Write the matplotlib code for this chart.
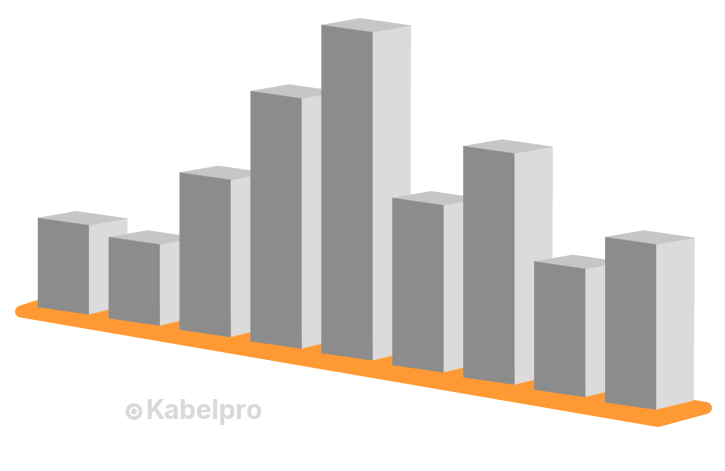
import matplotlib
matplotlib.use("Agg")
import matplotlib.pyplot as plt
from matplotlib.patches import Polygon, Circle

# bar heights (no axis in the original, so pixels)
heights = [89, 81, 157, 250, 328, 167, 231, 128, 165]
watermark = "Kabelpro"

C_FRONT = "#8c8c8c"
C_SIDE = "#dbdbdb"
C_TOP = "#c6c6c6"
C_BASE = "#ff9933"
C_MARK = "#d9d9d9"

# the fake 3d projection, the floor line bends a bit towards the viewer
X0, Y0 = 38, 307
STEP_X, STEP_Y, BEND = 70.9, 11.1, 0.1
W, W_DROP = 50.8, 7.3
DEPTH, TOP_DY, BOTTOM_DY = 38.5, -6.7, -9


def draw_bar(ax, i, h):
	x = X0 + i * STEP_X
	y = Y0 + i * STEP_Y + BEND * i * i
	bl = (x, y)
	br = (x + W, y + W_DROP)
	tl = (x, y - h)
	tr = (x + W, y + W_DROP - h)
	side_b = (br[0] + DEPTH - 1, br[1] + BOTTOM_DY)
	side_t = (tr[0] + DEPTH, tr[1] + TOP_DY)
	back = (tl[0] + DEPTH, tl[1] + TOP_DY)
	ax.add_patch(Polygon([br, side_b, side_t, tr], fc=C_SIDE, ec=C_SIDE, lw=0.3))
	ax.add_patch(Polygon([tl, back, side_t, tr], fc=C_TOP, ec=C_TOP, lw=0.3))
	ax.add_patch(Polygon([bl, br, tr, tl], fc=C_FRONT, ec=C_FRONT, lw=0.3))


fig = plt.figure(figsize=(7.25, 4.71), dpi=100)
ax = fig.add_axes([0, 0, 1, 1])
ax.set_xlim(0, 725)
ax.set_ylim(471, 0)
ax.axis("off")

# orange floor, thick outline gives the rounded corners
floor = [(21, 311.5), (70, 296), (706, 408), (658, 421)]
ax.add_patch(Polygon(floor, fc=C_BASE, ec=C_BASE, lw=8.6, joinstyle="round"))

for i, h in enumerate(heights):
	draw_bar(ax, i, h)

# logo
ax.add_patch(Circle((134, 411.5), 6.6, fc="none", ec=C_MARK, lw=2.6))
ax.add_patch(Circle((134, 411.5), 2.9, fc=C_MARK, ec="none"))
ax.text(145.5, 412, watermark, color=C_MARK, fontsize=19, fontweight="bold",
	family="Inter", ha="left", va="center")

fig.savefig("out.png", dpi=100)
